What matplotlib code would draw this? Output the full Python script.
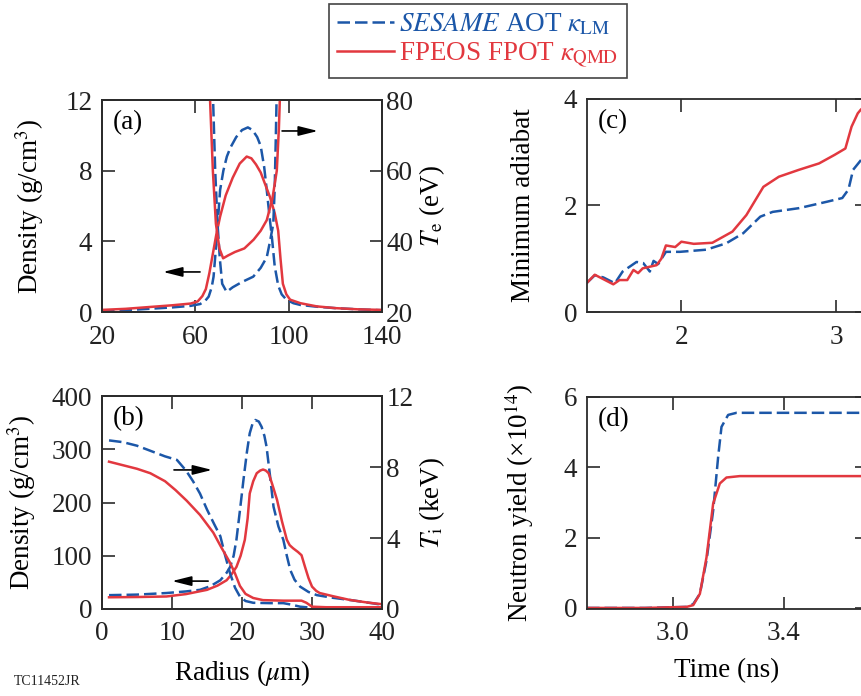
import matplotlib
matplotlib.use("Agg")
import matplotlib.pyplot as plt
import numpy as np

BLUE = "#1c57a8"
RED = "#e2383f"
DARK = "#2b2b2b"

# (a) density and electron temperature vs radius
a_r_red_rho = [20, 30, 40, 50, 58, 61, 63, 64.5, 66, 67.5, 69, 70.6, 73, 76, 79, 82, 84, 86,
               88, 90, 92, 94, 95.5, 96.5, 97.5, 99, 100.6, 105, 112, 120, 130, 140]
a_red_rho = [0.12, 0.18, 0.28, 0.38, 0.48, 0.6, 0.9, 1.3, 2.2, 3.3, 4.4, 5.4, 6.6, 7.6, 8.4, 8.8,
             8.7, 8.35, 7.9, 7.2, 6.5, 5.6, 4.6, 3.0, 1.6, 1.0, 0.7, 0.5, 0.32, 0.22, 0.15, 0.12]
a_r_blue_rho = [20, 30, 40, 50, 58, 62, 64, 65.7, 67, 67.8, 68.8, 69.8, 70.6, 72, 73.5, 75, 77.5,
                80, 82.5, 84.5, 86.5, 88, 89.5, 90.6, 91.8, 92.9, 94, 95.5, 97, 99, 102, 105,
                112, 120, 130, 140]
a_blue_rho = [0.06, 0.1, 0.18, 0.26, 0.35, 0.45, 0.6, 0.87, 1.4, 2.0, 3.6, 5.4, 6.9, 8.0, 8.8,
              9.3, 9.9, 10.3, 10.45, 10.3, 9.9, 9.4, 8.2, 6.9, 5.4, 4.1, 2.6, 1.5, 1.0, 0.7, 0.5,
              0.4, 0.3, 0.22, 0.15, 0.1]
a_r_red_te = [64, 66.3, 67.5, 68.8, 70.3, 71.9, 74, 77, 81, 85, 88, 90.6, 93, 94.9, 95.8, 96.3, 97]
a_red_te = [140, 80, 60, 45, 38, 35.2, 36, 37, 38, 40.5, 43, 46, 52, 60, 72, 82, 120]
a_r_blue_te = [65.5, 67.6, 68.5, 69.5, 70.5, 71.5, 73.4, 76, 80, 84.8, 88, 90.6, 92, 93.4, 94,
               94.5, 94.8, 95.5]
a_blue_te = [140, 80, 60, 45, 35, 28, 25.7, 27, 28.5, 30, 32.5, 35.5, 40, 45, 55, 70, 80, 120]

# (b) density and ion temperature vs radius
b_r_blue_ti = [1, 3, 5, 7, 9, 10.7, 12, 13, 14, 15, 16, 16.9, 17.6, 18.3, 19, 19.7, 20.5, 21.6,
               24, 25.9, 27, 28.3, 30, 33, 40]
b_blue_ti = [9.5, 9.4, 9.2, 8.9, 8.6, 8.4, 7.8, 7.2, 6.5, 5.6, 4.8, 4.1, 3.0, 2.0, 1.2, 0.7,
             0.45, 0.35, 0.33, 0.33, 0.25, 0.13, 0.07, 0.05, 0.05]
b_r_red_ti = [1, 3, 5, 6.9, 9, 10.5, 12.1, 14, 15.9, 17, 18.3, 19, 19.7, 20.5, 21.6, 23, 25.9,
              27.5, 28.5, 29.2, 30, 32, 40]
b_red_ti = [8.3, 8.1, 7.9, 7.65, 7.2, 6.7, 6.1, 5.3, 4.3, 3.5, 2.6, 2.0, 1.3, 0.85, 0.62, 0.5,
            0.47, 0.47, 0.47, 0.35, 0.13, 0.1, 0.1]
b_r_blue_rho = [1, 5, 9.2, 12, 14, 15.5, 16.9, 17.8, 18.3, 18.8, 19.2, 19.7, 20.2, 20.7, 21.1,
                21.5, 21.9, 22.4, 22.8, 23.2, 23.5, 24, 24.5, 25.2, 25.9, 26.4, 26.9, 27.5, 28.3,
                29.5, 30.7, 33, 35.4, 38, 40]
b_blue_rho = [26, 27, 30, 33, 36, 43, 54, 68, 79, 100, 130, 185, 242, 295, 330, 348, 355, 352,
              342, 325, 305, 250, 192, 155, 130, 100, 73, 55, 42, 32, 26, 21, 17, 12, 8]
b_r_red_rho = [1, 5, 9.2, 12, 15, 16.5, 17.8, 18.5, 19.2, 19.8, 20.4, 20.8, 21.1, 21.6, 22.1,
               22.6, 23.0, 23.4, 23.8, 24.3, 25, 25.7, 26.4, 26.8, 27.3, 28, 28.5, 29, 29.5, 30,
               30.6, 31.1, 33, 35.4, 38, 40]
b_red_rho = [22, 22.5, 23.5, 28, 36, 44, 54, 65, 79, 100, 130, 170, 217, 240, 255, 260, 262, 260,
             255, 235, 205, 165, 130, 120, 114, 107, 101, 79, 58, 42, 34, 30, 24, 17, 12, 9]

# (c) minimum adiabat vs time
c_t_blue = [1.39, 1.44, 1.495, 1.57, 1.62, 1.71, 1.753, 1.796, 1.82, 1.85, 1.90, 1.99, 2.16,
            2.29, 2.40, 2.51, 2.59, 2.76, 2.94, 3.04, 3.08, 3.11, 3.16, 3.2]
c_blue = [0.55, 0.69, 0.65, 0.54, 0.76, 0.94, 0.92, 0.76, 0.96, 0.9, 1.13, 1.13, 1.17, 1.29,
          1.48, 1.79, 1.88, 1.95, 2.07, 2.14, 2.3, 2.67, 2.85, 3.0]
c_t_red = [1.39, 1.44, 1.56, 1.60, 1.65, 1.69, 1.72, 1.75, 1.84, 1.87, 1.90, 1.96, 2.0, 2.08,
           2.20, 2.33, 2.42, 2.53, 2.63, 2.76, 2.89, 2.99, 3.06, 3.10, 3.14, 3.16, 3.2]
c_red = [0.55, 0.7, 0.52, 0.6, 0.6, 0.79, 0.73, 0.82, 0.88, 1.0, 1.25, 1.22, 1.32, 1.28, 1.30,
         1.51, 1.82, 2.35, 2.54, 2.67, 2.79, 2.95, 3.07, 3.48, 3.73, 3.8, 3.9]

# (d) neutron yield vs time
d_t_blue = [2.69, 2.9, 3.049, 3.073, 3.097, 3.121, 3.145, 3.163, 3.175, 3.199, 3.229, 3.3, 3.7]
d_blue = [0.0, 0.0, 0.03, 0.11, 0.40, 1.35, 2.77, 4.30, 5.15, 5.49, 5.55, 5.55, 5.55]
d_t_red = [2.69, 2.9, 3.049, 3.073, 3.097, 3.121, 3.145, 3.169, 3.193, 3.241, 3.3, 3.7]
d_red = [0.0, 0.0, 0.03, 0.08, 0.40, 1.44, 2.97, 3.54, 3.71, 3.75, 3.75, 3.75]

FS = 19.5
plt.rcParams.update({
    "font.family": "Liberation Serif",
    "mathtext.fontset": "stix",
    "font.size": FS,
    "axes.edgecolor": DARK,
    "axes.linewidth": 1.3,
    "xtick.color": DARK,
    "ytick.color": DARK,
    "xtick.labelcolor": "#222222",
    "ytick.labelcolor": "#222222",
    "xtick.direction": "in",
    "ytick.direction": "in",
    "xtick.major.size": 9,
    "ytick.major.size": 9,
    "xtick.major.width": 1.2,
    "ytick.major.width": 1.2,
    "xtick.major.pad": 9,
    "ytick.major.pad": 7,
})

DASH = (0, (5, 2))
LW = 1.8

fig = plt.figure(figsize=(8.61, 6.96), dpi=100)
ax_a = fig.add_axes([0.1185, 0.5517, 0.3252, 0.3046])
ax_b = fig.add_axes([0.1185, 0.1250, 0.3252, 0.3060])
ax_c = fig.add_axes([0.6818, 0.5517, 0.3252, 0.3061])
ax_d = fig.add_axes([0.6818, 0.1250, 0.3252, 0.3046])


def arrow(ax, start, end):
    ax.annotate("", xy=end, xytext=start, xycoords="axes fraction",
                arrowprops=dict(arrowstyle="-|>,head_length=0.6,head_width=0.15",
                                color="black", lw=1.2, shrinkA=0, shrinkB=0))


# panel (a)
ax_a2 = ax_a.twinx()
ax_a.plot(a_r_blue_rho, a_blue_rho, color=BLUE, lw=LW, ls=DASH)
ax_a.plot(a_r_red_rho, a_red_rho, color=RED, lw=LW)
ax_a2.plot(a_r_blue_te, a_blue_te, color=BLUE, lw=LW, ls=DASH)
ax_a2.plot(a_r_red_te, a_red_te, color=RED, lw=LW)
ax_a.set_xlim(20, 140)
ax_a.set_ylim(0, 12)
ax_a2.set_ylim(20, 80)
ax_a.set_xticks([20, 60, 100, 140])
ax_a.set_yticks([0, 4, 8, 12])
ax_a2.set_yticks([20, 40, 60, 80])
ax_a.tick_params(top=True)
ax_a2.tick_params(pad=3)
ax_a.set_ylabel("Density (g/cm$^3$)", labelpad=14)
ax_a2.set_ylabel("$T_\\mathrm{e}$ (eV)", labelpad=3)
ax_a.text(0.04, 0.895, "(a)", transform=ax_a.transAxes, ha="left", va="center")
arrow(ax_a, (0.35, 0.189), (0.218, 0.189))
arrow(ax_a, (0.643, 0.854), (0.771, 0.854))

# panel (b)
ax_b2 = ax_b.twinx()
ax_b.plot(b_r_blue_rho, b_blue_rho, color=BLUE, lw=LW, ls=DASH)
ax_b.plot(b_r_red_rho, b_red_rho, color=RED, lw=LW)
ax_b2.plot(b_r_blue_ti, b_blue_ti, color=BLUE, lw=LW, ls=DASH)
ax_b2.plot(b_r_red_ti, b_red_ti, color=RED, lw=LW)
ax_b.set_xlim(0, 40)
ax_b.set_ylim(0, 400)
ax_b2.set_ylim(0, 12)
ax_b.set_xticks([0, 10, 20, 30, 40])
ax_b.set_yticks([0, 100, 200, 300, 400])
ax_b2.set_yticks([0, 4, 8, 12])
ax_b.tick_params(top=True)
ax_b2.tick_params(pad=3)
ax_b.set_ylabel("Density (g/cm$^3$)", labelpad=10)
ax_b2.set_ylabel("$T_\\mathrm{i}$ (keV)", labelpad=3)
ax_b.set_xlabel("Radius ($\\mu$m)", labelpad=8)
ax_b.text(0.04, 0.895, "(b)", transform=ax_b.transAxes, ha="left", va="center")
arrow(ax_b, (0.257, 0.653), (0.393, 0.653))
arrow(ax_b, (0.379, 0.131), (0.25, 0.131))

# panel (c)
ax_c.plot(c_t_blue, c_blue, color=BLUE, lw=LW, ls=DASH)
ax_c.plot(c_t_red, c_red, color=RED, lw=LW)
ax_c.set_xlim(1.39, 3.2)
ax_c.set_ylim(0, 4)
ax_c.set_xticks([2, 3])
ax_c.set_yticks([0, 2, 4])
ax_c.tick_params(top=True, right=True)
ax_c.set_ylabel("Minimum adiabat", labelpad=20)
ax_c.text(0.04, 0.895, "(c)", transform=ax_c.transAxes, ha="left", va="center")

# panel (d)
ax_d.plot(d_t_blue, d_blue, color=BLUE, lw=LW, ls=DASH)
ax_d.plot(d_t_red, d_red, color=RED, lw=LW)
ax_d.set_xlim(2.69, 3.70)
ax_d.set_ylim(-0.03, 6)
ax_d.set_xticks([3.0, 3.4])
ax_d.set_xticklabels(["3.0", "3.4"])
ax_d.set_yticks([0, 2, 4, 6])
ax_d.tick_params(top=True, right=True)
ax_d.set_ylabel("Neutron yield (\u00d710$^{14}$)", labelpad=20)
ax_d.set_xlabel("Time (ns)", labelpad=8)
ax_d.text(0.04, 0.895, "(d)", transform=ax_d.transAxes, ha="left", va="center")

# shared legend at the top
h1, = ax_c.plot([], [], color=BLUE, lw=LW, ls=DASH)
h2, = ax_c.plot([], [], color=RED, lw=LW)
leg = fig.legend([h1, h2],
                 ["$\\mathit{SESAME}$ AOT $\\kappa_\\mathrm{LM}$",
                  "FPEOS FPOT $\\kappa_\\mathrm{QMD}$"],
                 loc="upper left", bbox_to_anchor=(329 / 861, 1 - 4 / 696),
                 borderaxespad=0, fancybox=False, framealpha=1, edgecolor="#444444",
                 handlelength=2.1, handletextpad=0.2, borderpad=0.3,
                 labelspacing=0.1, labelcolor="linecolor", fontsize=FS)
leg.get_frame().set_linewidth(1.2)

fig.text(0.016, 0.012, "TC11452JR", fontsize=10, ha="left", va="bottom", color="#222222")

fig.savefig("out.png", dpi=100, facecolor="white")
